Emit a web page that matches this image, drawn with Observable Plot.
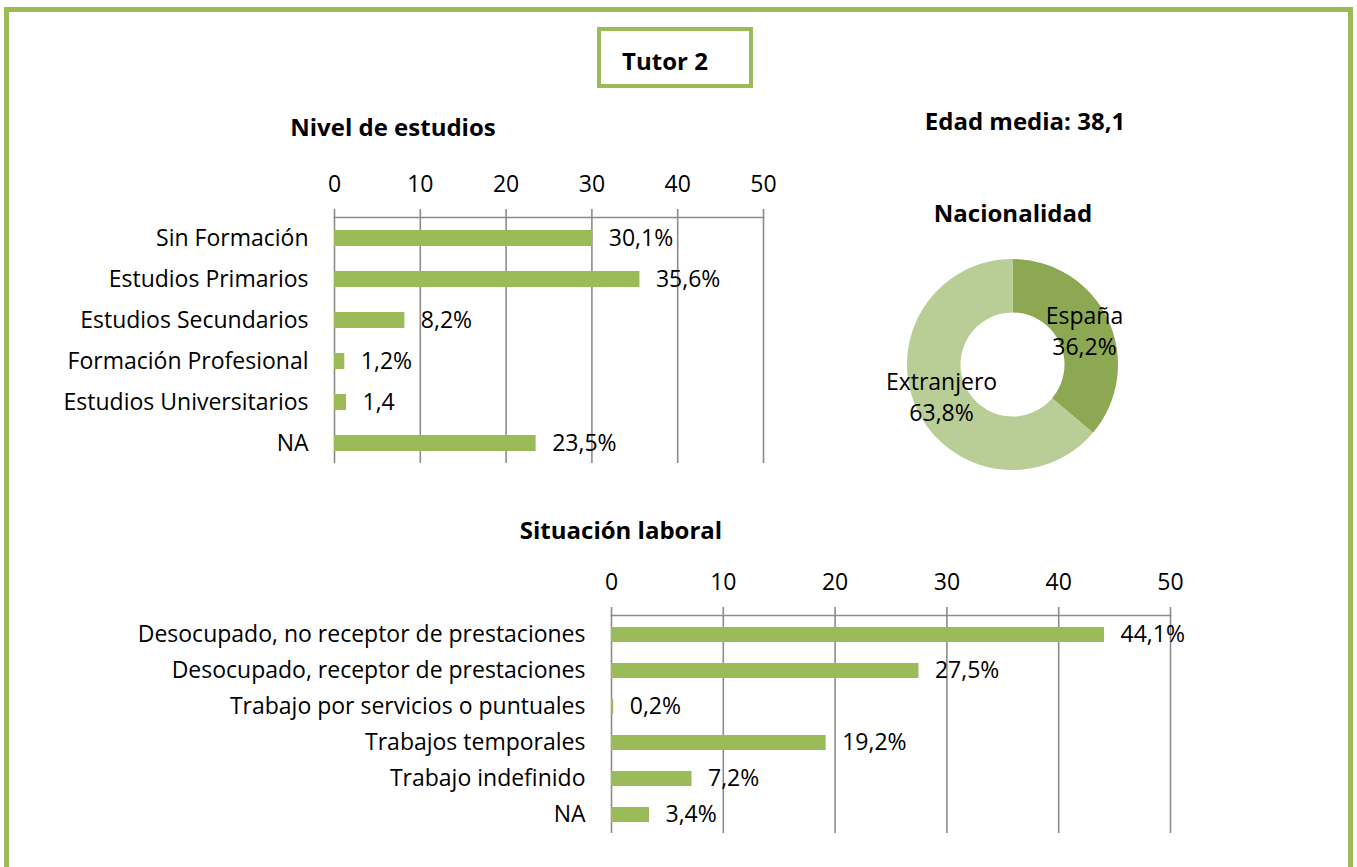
<!DOCTYPE html>
<html><head><meta charset="utf-8">
<script src="https://cdn.jsdelivr.net/npm/d3@7"></script>
<script src="https://cdn.jsdelivr.net/npm/@observablehq/plot@0.6"></script>
<style>
body{margin:0;width:1357px;height:867px;overflow:hidden;background:#fff;font-family:"Open Sans", sans-serif;position:relative}
.frame{position:absolute;left:4px;top:7px;width:1349px;height:900px;box-sizing:border-box;border:5px solid #9BBB59}
.tutorbox{position:absolute;left:597px;top:27px;width:156px;height:61px;box-sizing:border-box;border:4px solid #9BBB59}
.t{position:absolute;font-weight:bold;font-size:24px;transform:translate(-50%,-50%);white-space:nowrap;color:#000}
.chart{position:absolute}
.chart svg{overflow:visible}
</style></head>
<body>
<div class="frame"></div>
<div class="tutorbox"></div>
<div class="t" style="left:665px;top:60px">Tutor 2</div>
<div class="t" style="left:393px;top:126px">Nivel de estudios</div>
<div class="t" style="left:1025px;top:120px">Edad media: 38,1</div>
<div class="t" style="left:1013px;top:212px">Nacionalidad</div>
<div class="t" style="left:621px;top:529px">Situación laboral</div>
<div id="c1" class="chart" style="left:0;top:150px"></div>
<div id="c2" class="chart" style="left:0;top:540px"></div>
<div id="c3" class="chart" style="left:870px;top:244px"></div>
<script>
const xTicks = [0, 10, 20, 30, 40, 50];

const estudiosCats = ["Sin Formación", "Estudios Primarios", "Estudios Secundarios", "Formación Profesional", "Estudios Universitarios", "NA"];
const estudiosVals = [30.1, 35.6, 8.2, 1.2, 1.4, 23.5];
const estudiosLabels = ["30,1%", "35,6%", "8,2%", "1,2%", "1,4", "23,5%"];

const laboralCats = ["Desocupado, no receptor de prestaciones", "Desocupado, receptor de prestaciones", "Trabajo por servicios o puntuales", "Trabajos temporales", "Trabajo indefinido", "NA"];
const laboralVals = [44.1, 27.5, 0.2, 19.2, 7.2, 3.4];
const laboralLabels = ["44,1%", "27,5%", "0,2%", "19,2%", "7,2%", "3,4%"];

const nacCats = ["España", "Extranjero"];
const nacVals = [36.2, 63.8];
const nacLabels = ["36,2%", "63,8%"];
const nacColors = ["#8CA852", "#B9CD96"];

const BAR = "#9BBB59", GRID = "#8c8c8c", FS = 23, FONT = "'Open Sans', sans-serif";

function barChart(cats, vals, labels, o) {
  const data = cats.map((c, i) => ({cat: c, value: vals[i], label: labels[i]}));
  return Plot.plot({
    width: o.width, height: o.height,
    marginLeft: o.ml, marginRight: o.mr, marginTop: o.mt, marginBottom: o.mb,
    style: {fontFamily: FONT, fontSize: FS + "px", color: "#000", background: "transparent"},
    x: {domain: [0, 50]},
    y: {domain: cats, paddingInner: o.pi, paddingOuter: o.pi / 2},
    marks: [
      Plot.gridX(xTicks, {stroke: GRID, strokeOpacity: 1, strokeWidth: 1.6}),
      Plot.frame({anchor: "top", stroke: GRID, strokeWidth: 1.6}),
      Plot.axisX(xTicks, {anchor: "top", tickSize: 9, tickPadding: 17, stroke: GRID, strokeWidth: 1.6, fill: "#000", fontSize: FS, label: null}),
      Plot.axisY({tickSize: 0, tickPadding: 26, fill: "#000", fontSize: FS, label: null}),
      Plot.barX(data, {x: "value", y: "cat", fill: BAR}),
      Plot.text(data, {x: "value", y: "cat", text: "label", textAnchor: "start", dx: 16, fontSize: FS, fill: "#000"})
    ]
  });
}

document.getElementById("c1").append(barChart(estudiosCats, estudiosVals, estudiosLabels,
  {width: 800, height: 330, ml: 334, mr: 37, mt: 67, mb: 17, pi: 0.61}));
document.getElementById("c2").append(barChart(laboralCats, laboralVals, laboralLabels,
  {width: 1357, height: 300, ml: 611, mr: 187, mt: 75, mb: 7, pi: 0.59}));

// Donut
const W = 285, H = 241, R_OUT = 105.5, R_IN = 52;
const pie = d3.pie().sort(null).value(d => d.value);
const nacData = nacCats.map((c, i) => ({name: c, value: nacVals[i], label: nacLabels[i]}));
const arcs = pie(nacData);
const arcGen = d3.arc().innerRadius(R_IN).outerRadius(R_OUT);
const centroids = arcs.map(a => {
  const [cx, cy] = arcGen.centroid(a);
  return {cx, cy, name: a.data.name, label: a.data.label};
});
const donut = Plot.plot({
  width: W, height: H, margin: 0,
  style: {fontFamily: FONT, fontSize: FS + "px", color: "#000", background: "transparent"},
  x: {domain: [-W / 2, W / 2], range: [0, W], axis: null},
  y: {domain: [-H / 2, H / 2], range: [0, H], axis: null},
  color: {domain: nacCats, range: nacColors},
  marks: [
    Plot.dot(nacData, {x: 0, y: 0, fill: "name", r: 0}),
    (index, scales) => {
      const g = d3.create("svg:g");
      const cx = scales.x(0), cy = scales.y(0);
      const k = scales.x(1) - scales.x(0);
      const a = d3.arc().innerRadius(R_IN * k).outerRadius(R_OUT * k);
      g.attr("transform", `translate(${cx},${cy})`);
      g.selectAll("path").data(arcs).join("path")
        .attr("d", a)
        .attr("fill", d => scales.color(d.data.name));
      return g.node();
    },
    Plot.text(centroids, {x: "cx", y: "cy", text: "name", dy: -15, fontSize: FS, fill: "#000"}),
    Plot.text(centroids, {x: "cx", y: "cy", text: "label", dy: 16, fontSize: FS, fill: "#000"})
  ]
});
document.getElementById("c3").append(donut);
</script>
</body></html>
